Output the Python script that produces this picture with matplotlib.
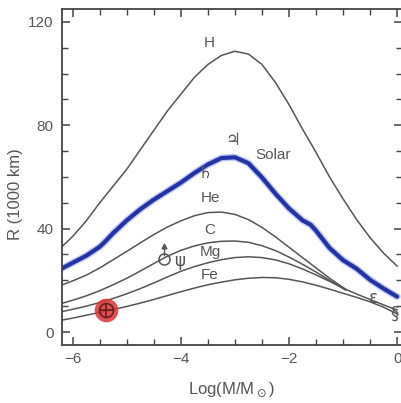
import matplotlib.pyplot as plt
from matplotlib.ticker import MultipleLocator

plt.rcParams['font.family'] = ['Liberation Sans', 'DejaVu Sans']

# mass-radius curves, R in 1000 km against log(M/Msun)
logm = [-6.2, -6.0, -5.75, -5.5, -5.25, -5.0, -4.75, -4.5, -4.25, -4.0, -3.75, -3.5, -3.25,
        -3.0, -2.75, -2.5, -2.25, -2.0, -1.75, -1.5, -1.25, -1.0, -0.75, -0.5, -0.25, 0.0]
r_h = [33, 37, 43, 50, 56.5, 63, 70.5, 78, 85.5, 92, 98.5, 103.5, 107,
       108.6, 107.5, 103.5, 96.5, 88, 78.5, 69.5, 60, 51.5, 43.5, 36.5, 30.5, 25.5]
r_mg = [7.9, 8.8, 10, 11.4, 13, 14.8, 16.8, 19, 21.3, 23.5, 25.3, 26.8, 28,
        28.8, 29.1, 28.8, 27.9, 26.4, 24.4, 22.1, 19.6, 17.0, 14.7, 12.6, 10.5, 8.5]
r_fe = [4.6, 5.4, 6.5, 7.6, 8.7, 9.9, 11.2, 12.6, 14.1, 15.6, 17.0, 18.3, 19.3,
        20.2, 20.8, 21.1, 21.0, 20.4, 19.4, 18.1, 16.6, 15.0, 13.4, 11.7, 9.6, 7.0]

logm_short = [-6.2, -6.0, -5.75, -5.5, -5.25, -5.0, -4.75, -4.5, -4.25, -4.0, -3.75, -3.5,
              -3.25, -3.0, -2.75, -2.5, -2.25, -2.0, -1.75, -1.5, -1.25, -0.95]
r_he = [18.2, 19.8, 22, 24.8, 28, 31.2, 34.5, 37.7, 40.6, 43, 45, 46.2,
        46.4, 45.5, 43.5, 40.5, 36.8, 32.8, 28.8, 24.8, 20.8, 16.5]
r_c = [11.1, 12.3, 14, 16, 18.3, 20.8, 23.6, 26.5, 29.3, 31.6, 33.3, 34.5,
       35.1, 35.2, 34.7, 33.4, 31.5, 29, 26.2, 23.2, 20, 16.2]

logm_solar = [-6.2, -6.0, -5.75, -5.5, -5.4, -5.25, -5.0, -4.75, -4.5, -4.25, -4.0, -3.75,
              -3.5, -3.25, -3.0, -2.75, -2.5, -2.25, -2.0, -1.75, -1.6, -1.5, -1.25, -1.0,
              -0.75, -0.5, -0.25, 0.0]
r_solar = [24.6, 26.8, 29.5, 33.0, 35.0, 38.3, 43.2, 47.5, 51.2, 54.5, 57.8, 61.5,
           64.8, 67.3, 67.6, 65.3, 59.8, 53.5, 47.8, 43.2, 41.5, 39.2, 32.5, 27.8,
           24.5, 20.2, 16.8, 13.7]

# curve labels
curve_names = ['H', 'Solar', 'He', 'C', 'Mg', 'Fe']
name_x = [-3.48, -2.29, -3.46, -3.46, -3.46, -3.46]
name_y = [111.7, 68.4, 51.7, 39.4, 31.0, 22.0]

# planets and other bodies
body_sym = ['\u2643', '\u2644', '\u03c8', '\u03b5', '\u00a7']
body_x = [-3.04, -3.56, -4.02, -0.44, -0.05]
body_y = [74.2, 61.4, 27.4, 13.0, 7.0]
uranus = (-4.32, 28.2)
earth = (-5.39, 8.5)

grey = '#555555'

fig = plt.figure(figsize=(4.02, 4.03), dpi=100)
ax = fig.add_axes([0.154, 0.144, 0.846, 0.834])

for ys in (r_h, r_mg, r_fe):
    ax.plot(logm, ys, color=grey, lw=1.1)
for ys in (r_he, r_c):
    ax.plot(logm_short, ys, color=grey, lw=1.1)
ax.plot(logm_solar, r_solar, color='#8090ee', lw=5, alpha=0.5, solid_capstyle='round')
ax.plot(logm_solar, r_solar, color='#2233aa', lw=3, solid_capstyle='round')

for name, x, y in zip(curve_names, name_x, name_y):
    ax.text(x, y, name, color=grey, fontsize=11, ha='center', va='center')
for s, x, y in zip(body_sym, body_x, body_y):
    ax.text(x, y, s, color=grey, fontsize=12, ha='center', va='center',
            family='DejaVu Sans')

# Uranus: open circle with an arrow on top
ax.plot(*uranus, marker='o', ms=8, mfc='none', mec=grey, mew=1.1)
ax.plot([uranus[0], uranus[0]], [uranus[1] + 1.6, uranus[1] + 5], color=grey, lw=1)
ax.plot(uranus[0], uranus[1] + 5, marker='^', ms=3.5, color=grey)

# Earth
ax.plot(*earth, marker='o', ms=17, color='#e03030', alpha=0.85, mec='none')
ax.plot(*earth, marker='o', ms=10, mfc='none', mec='#602020', mew=1.2)
ax.plot(*earth, marker='+', ms=10, color='#602020', mew=1.2)

ax.set_xlim(-6.2, 0.09)
ax.set_ylim(-5, 125)
ax.xaxis.set_major_locator(MultipleLocator(2))
ax.xaxis.set_minor_locator(MultipleLocator(0.5))
ax.yaxis.set_major_locator(MultipleLocator(40))
ax.yaxis.set_minor_locator(MultipleLocator(10))
ax.tick_params(which='both', direction='in', top=True, right=True,
               color='#444444', labelcolor=grey, labelsize=11)
ax.tick_params(which='major', length=6, width=1.1)
ax.tick_params(which='minor', length=4, width=1.0)
ax.tick_params(axis='x', pad=5)
ax.tick_params(axis='y', pad=6)
for sp in ax.spines.values():
    sp.set_color('#444444')
    sp.set_linewidth(1.3)

ax.set_xlabel(r'Log(M/M$_\odot$)', color=grey, fontsize=12)
ax.set_ylabel('R (1000 km)', color=grey, fontsize=12)
ax.yaxis.set_label_coords(-0.115, 0.45)
ax.xaxis.set_label_coords(0.5, -0.105)

fig.savefig('out.png', dpi=100)
